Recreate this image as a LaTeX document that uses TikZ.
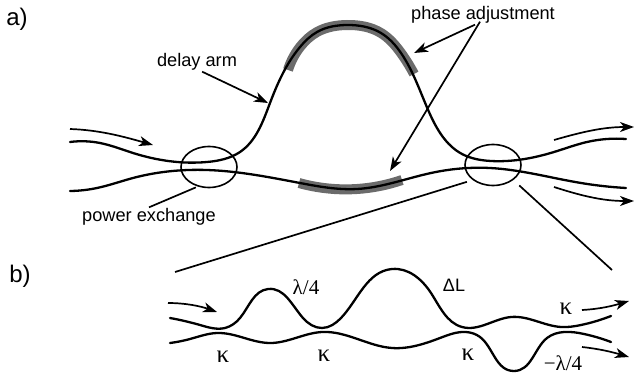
\documentclass[tikz,border=0pt]{standalone}
\usepackage{fontspec}
\setmainfont{Liberation Sans}
\newfontfamily\greekFont{Liberation Serif}
\usetikzlibrary{arrows.meta, shapes.geometric, hobby}
\begin{document}
\begin{tikzpicture}[
    x=1pt, y=-1pt,
    use Hobby shortcut,
    >={Stealth[length=14pt,width=10pt,inset=4pt]},
    guideLine/.style={line width=2.3pt, line cap=round},
    phaseBand/.style={line width=10pt, color=black!58},
    coupler/.style={
        ellipse,
        draw,
        line width=1.6pt,
        minimum width=56pt,
        minimum height=41pt,
        inner sep=0pt
    },
    flowArrow/.style={->, line width=1.7pt},
    pointerLine/.style={line width=1.7pt},
    mainLabel/.style={font=\fontsize{18.2}{20}\selectfont, inner sep=1pt},
    partLabel/.style={font=\fontsize{24}{26}\selectfont, inner sep=0pt},
    greekLabel/.style={font=\fontsize{21}{23}\selectfont\greekFont, inner sep=0pt},
    kappaLabel/.style={font=\fontsize{25}{27}\selectfont\greekFont, inner sep=0pt}
]
\useasboundingbox (0,0) rectangle (634,377);

% Part a: phase adjustment bands
\draw[phaseBand] (288,70) .. (300,47) .. (317,32) .. (347,25) .. (381,33) .. (401,53) .. (414,74);
\draw[phaseBand] (299,183) .. (357,189) .. (402,180);

% Part a: waveguides
\draw[guideLine] (70,142) .. (100,143) .. (133,153) .. (207,162) .. (240,152) .. (270,103) .. (300,47) .. (317,32) .. (347,25) .. (381,33) .. (401,53) .. (429,112) .. (462,154) .. (491,161) .. (554,152) .. (587,142) .. (626,139);
\draw[guideLine] (70,191) .. (97,188) .. (133,178) .. (207,170) .. (300,183) .. (357,189) .. (431,173) .. (490,168) .. (581,183) .. (626,188);

% Part a: couplers
\node[coupler] (couplerL) at (209,167) {};
\node[coupler] (couplerR) at (493,165) {};

% Part a: labels
\node[partLabel] (partA) at (17,19) {a)};
\node[mainLabel] (delayLabel) at (197,62) {delay arm};
\node[mainLabel] (phaseLabel) at (483,15) {phase adjustment};
\node[mainLabel] (powerLabel) at (149,217) {power exchange};

% Part a: pointers
\coordinate (delayTip) at (268,103);
\coordinate (bandTopTip) at (414,53);
\coordinate (bandLowTip) at (390,171);
\draw[flowArrow] (delayLabel.-62) -- (delayTip);
\draw[flowArrow] ([xshift=-8pt]phaseLabel.south) -- (bandTopTip);
\draw[flowArrow] ([xshift=-3pt,yshift=3pt]phaseLabel.south) -- (bandLowTip);
\draw[pointerLine, shorten >=2pt] (powerLabel.north) -- (couplerL.240);

% Part a: flow arrows
\draw[flowArrow] (70,129) .. controls (100,130) and (125,137) .. (153,145);
\draw[flowArrow] (554,140) .. controls (585,131) and (605,127) .. (634,127);
\draw[flowArrow] (554,187) .. controls (585,197) and (605,201) .. (634,201);

% Zoom lines
\coordinate (zoomEndL) at (175,272);
\coordinate (zoomEndR) at (612,270);
\draw[pointerLine, shorten <=6pt] (couplerR.south west) -- (zoomEndL);
\draw[pointerLine, shorten <=8pt] (couplerR.south east) -- (zoomEndR);

% Part b: waveguides
\draw[guideLine] (170,318) .. (200,325) .. (225,328) .. (240,318) .. (268,289) .. (303,318) .. (322,328) .. (341,318) .. (392,269) .. (431,293) .. (462,327) .. (511,317) .. (561,327) .. (581,325) .. (611,316);
\draw[guideLine] (170,343) .. (190,339) .. (217,333) .. (270,343) .. (322,332) .. (392,348) .. (440,338) .. (466,332) .. (480,337) .. (514,371) .. (547,338) .. (564,332) .. (584,334) .. (611,342);

% Part b: flow arrows
\draw[flowArrow] (168,303) .. controls (185,303) and (200,306) .. (217,312);
\draw[flowArrow] (582,310) .. controls (600,309) and (612,306) .. (629,301);
\draw[flowArrow] (582,347) .. controls (600,349) and (612,352) .. (629,357);

% Part b: labels
\node[partLabel] (partB) at (20,276) {b)};
\node[greekLabel] (quarterPlus) at (306,287) {λ/4};
\node[greekLabel, font=\fontsize{18}{20}\selectfont] (deltaLen) at (454,285) {ΔL};
\node[greekLabel] (quarterMinus) at (563,363) {−λ/4};
\node[kappaLabel] (kappaA) at (223,357) {κ};
\node[kappaLabel] (kappaB) at (324,356) {κ};
\node[kappaLabel] (kappaC) at (468,355) {κ};
\node[kappaLabel] (kappaD) at (566,309) {κ};

\end{tikzpicture}
\end{document}
